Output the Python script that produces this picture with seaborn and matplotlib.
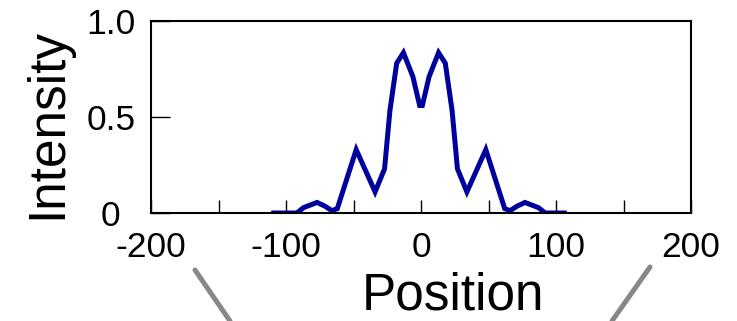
import matplotlib
matplotlib.use("Agg")
import matplotlib.pyplot as plt
from matplotlib.lines import Line2D
import seaborn as sns
import pandas as pd

position = [-111, -92, -87, -77, -71, -66, -62, -48, -34, -27, -23, -18, -13, -6, -1,
            1, 6, 13, 18, 23, 27, 34, 48, 62, 66, 71, 77, 87, 92, 108]
intensity = [0, 0, 0.028, 0.055, 0.035, 0.012, 0.023, 0.33, 0.11, 0.23, 0.535, 0.78, 0.835, 0.71, 0.56,
             0.56, 0.71, 0.835, 0.78, 0.535, 0.23, 0.11, 0.33, 0.023, 0.012, 0.035, 0.055, 0.028, 0, 0]
x_ticks = [-200, -150, -100, -50, 0, 50, 100, 150, 200]
x_tick_labels = ["-200", "", "-100", "", "0", "", "100", "", "200"]
y_ticks = [0, 0.5, 1.0]
y_tick_labels = ["0", "0.5", "1.0"]

sns.set_style("ticks")
plt.rcParams['font.family'] = ['Liberation Sans', 'DejaVu Sans']
plt.rcParams['text.color'] = 'black'
plt.rcParams['axes.labelcolor'] = 'black'
plt.rcParams['xtick.color'] = 'black'
plt.rcParams['ytick.color'] = 'black'

df = pd.DataFrame({"Position": position, "Intensity": intensity})

fig = plt.figure(figsize=(7.37, 3.21), dpi=100)
ax = fig.add_axes([151/737, 1 - 213/321, 540/737, 192/321])

sns.lineplot(data=df, x="Position", y="Intensity", ax=ax, color="#00009C",
             linewidth=3.6, solid_joinstyle="miter", solid_capstyle="butt")

ax.set_xlim(-200, 200)
ax.set_ylim(0, 1.0)
ax.set_xticks(x_ticks)
ax.set_xticklabels(x_tick_labels, fontsize=25.5)
ax.set_yticks(y_ticks)
ax.set_yticklabels(y_tick_labels, fontsize=25.5)
for lab in ax.get_yticklabels():
    lab.set_ha("center")

for sp in ax.spines.values():
    sp.set_visible(True)
    sp.set_linewidth(1.5)
    sp.set_color("black")

ax.tick_params(axis="x", direction="in", length=9.4, width=1.0, pad=13,
               colors="black", labelcolor="black")
ax.tick_params(axis="y", direction="in", length=13.7, width=1.0, pad=29,
               colors="black", labelcolor="black")

ax.set_xlabel("Position", fontsize=37, color="black")
ax.set_ylabel("Intensity", fontsize=37, color="black")
ax.xaxis.set_label_coords((453 - 151) / 540, (213 - 272) / 192)
ax.yaxis.set_label_coords((72 - 151) / 540, (213 - 123.5) / 192)

# zoom connector lines
fig.add_artist(Line2D([195/737, 230/737], [1 - 270/321, 0], color="#888888", linewidth=3.6,
                      transform=fig.transFigure))
fig.add_artist(Line2D([650/737, 612/737], [1 - 267/321, 0], color="#888888", linewidth=3.6,
                      transform=fig.transFigure))

fig.savefig("out.png", dpi=100)
